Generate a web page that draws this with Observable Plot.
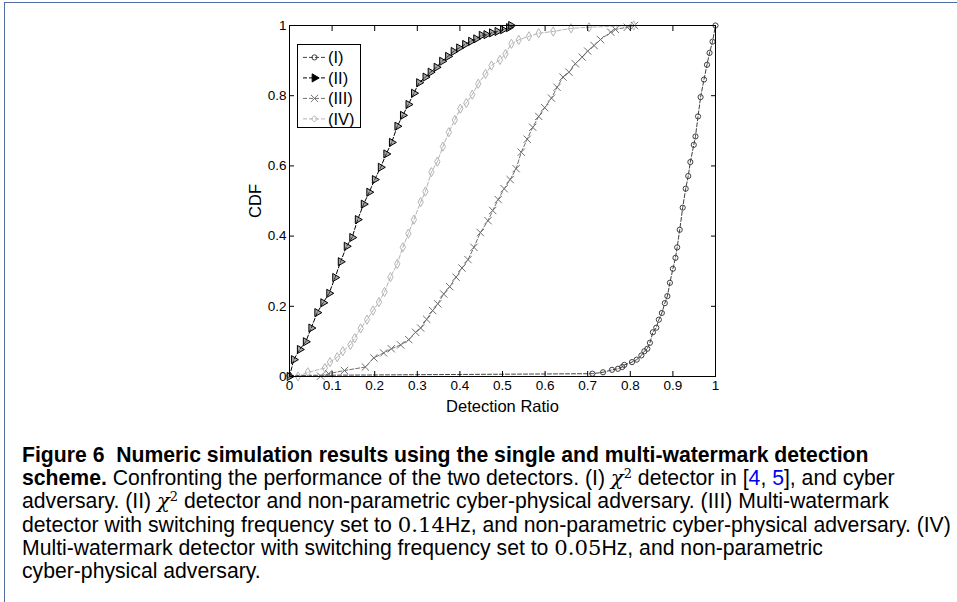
<!DOCTYPE html>
<html>
<head>
<meta charset="utf-8">
<script src="https://cdn.jsdelivr.net/npm/d3@7"></script>
<script src="https://cdn.jsdelivr.net/npm/@observablehq/plot@0.6"></script>
<style>
  html, body { margin: 0; padding: 0; background: #fff; }
  body { width: 957px; height: 602px; position: relative; overflow: hidden; font-family: "Liberation Sans", Arial, Helvetica, sans-serif; }
  #border { position: absolute; left: 4px; top: 2px; width: 1000px; height: 700px; border-top: 1.5px solid #4f6fa3; border-left: 1.5px solid #4f6fa3; }
  #chart { position: absolute; left: 0; top: 0; }
  #legend { position: absolute; left: 297px; top: 44px; width: 64px; height: 84px; border: 1px solid #000; background: #fff; box-sizing: border-box; }
  #caption { position: absolute; left: 22px; top: 443px; font-size: 21.2px; line-height: 23.2px; color: #000; white-space: nowrap; }
  #caption b { font-weight: bold; }
  .m { font-family: "DejaVu Serif", "Liberation Serif", serif; }
  .chi { font-family: "DejaVu Serif", "Liberation Serif", serif; font-style: italic; }
  .sup { font-family: "DejaVu Serif", "Liberation Serif", serif; font-size: 13px; vertical-align: 7px; line-height: 0; }
  .cite { color: #0000ee; }
</style>
</head>
<body>
<div id="border"></div>
<div id="chart"></div>
<div id="legend"></div>
<div id="caption">
<b>Figure 6&nbsp; Numeric simulation results using the single and multi-watermark detection</b><br>
<b>scheme.</b> Confronting the performance of the two detectors. (I) <span class="chi">χ</span><span class="sup">2</span> detector in [<span class="cite">4</span>, <span class="cite">5</span>], and cyber<br>
adversary. (II) <span class="chi">χ</span><span class="sup">2</span> detector and non-parametric cyber-physical adversary. (III) Multi-watermark<br>
detector with switching frequency set to <span class="m">0.14</span>Hz, and non-parametric cyber-physical adversary. (IV)<br>
Multi-watermark detector with switching frequency set to <span class="m">0.05</span>Hz, and non-parametric<br>
cyber-physical adversary.
</div>
<script>
// ---- Data ----
const seriesNames = ["(I)", "(II)", "(III)", "(IV)"];
const seriesColors = ["#404040", "#000000", "#6f6f6f", "#b4b4b4"];
const seriesSymbols = ["circle", "triangle", "times", "diamond"];

const xI = [0, 0.711, 0.736, 0.757, 0.771, 0.781, 0.786, 0.804, 0.815, 0.826, 0.833, 0.840, 0.846, 0.853, 0.861, 0.867, 0.874, 0.881, 0.887, 0.893, 0.900, 0.906, 0.910, 0.916, 0.923, 0.930, 0.936, 0.941, 0.949, 0.953, 0.959, 0.965, 0.973, 0.980, 0.986, 0.993, 1.0];
const yI = [0.003, 0.008, 0.012, 0.019, 0.022, 0.027, 0.033, 0.041, 0.048, 0.060, 0.072, 0.079, 0.096, 0.126, 0.139, 0.162, 0.181, 0.209, 0.229, 0.267, 0.307, 0.338, 0.368, 0.418, 0.481, 0.535, 0.571, 0.611, 0.660, 0.684, 0.741, 0.796, 0.846, 0.888, 0.922, 0.954, 1.0];

const xII = [0, 0.010, 0.024, 0.038, 0.051, 0.065, 0.079, 0.093, 0.107, 0.120, 0.134, 0.147, 0.160, 0.174, 0.187, 0.200, 0.214, 0.227, 0.240, 0.253, 0.266, 0.279, 0.292, 0.304, 0.319, 0.331, 0.345, 0.358, 0.372, 0.385, 0.398, 0.412, 0.426, 0.438, 0.451, 0.462, 0.475, 0.488, 0.501, 0.515, 0.520];
const yII = [0, 0.048, 0.077, 0.099, 0.138, 0.182, 0.210, 0.237, 0.282, 0.327, 0.371, 0.396, 0.447, 0.491, 0.525, 0.561, 0.596, 0.634, 0.667, 0.713, 0.744, 0.775, 0.807, 0.837, 0.853, 0.867, 0.881, 0.898, 0.912, 0.926, 0.936, 0.946, 0.955, 0.962, 0.972, 0.974, 0.979, 0.983, 0.988, 0.994, 1.0];

const xIII = [0.073, 0.092, 0.129, 0.178, 0.198, 0.221, 0.239, 0.261, 0.280, 0.296, 0.308, 0.322, 0.336, 0.348, 0.362, 0.376, 0.391, 0.405, 0.419, 0.433, 0.448, 0.466, 0.477, 0.490, 0.504, 0.518, 0.532, 0.544, 0.558, 0.571, 0.585, 0.599, 0.615, 0.628, 0.642, 0.656, 0.671, 0.687, 0.700, 0.715, 0.730, 0.754, 0.765, 0.793, 0.810];
const yIII = [0.001, 0.008, 0.017, 0.027, 0.053, 0.067, 0.079, 0.090, 0.105, 0.126, 0.138, 0.163, 0.188, 0.207, 0.235, 0.256, 0.283, 0.309, 0.333, 0.368, 0.410, 0.444, 0.473, 0.504, 0.535, 0.561, 0.592, 0.639, 0.676, 0.710, 0.741, 0.766, 0.793, 0.824, 0.853, 0.867, 0.891, 0.910, 0.927, 0.943, 0.960, 0.981, 0.989, 0.995, 1.0];

const xIV = [0.020, 0.043, 0.083, 0.095, 0.112, 0.125, 0.143, 0.153, 0.167, 0.182, 0.196, 0.210, 0.223, 0.237, 0.253, 0.266, 0.279, 0.292, 0.308, 0.319, 0.333, 0.347, 0.360, 0.374, 0.388, 0.401, 0.415, 0.429, 0.443, 0.460, 0.474, 0.494, 0.507, 0.521, 0.538, 0.562, 0.585, 0.619, 0.661, 0.703, 0.808];
const yIV = [0.0, 0.012, 0.024, 0.041, 0.055, 0.072, 0.090, 0.109, 0.137, 0.162, 0.188, 0.212, 0.241, 0.283, 0.321, 0.368, 0.407, 0.447, 0.497, 0.527, 0.582, 0.612, 0.655, 0.696, 0.731, 0.763, 0.779, 0.803, 0.834, 0.862, 0.886, 0.902, 0.919, 0.948, 0.959, 0.969, 0.978, 0.983, 0.992, 0.995, 1.0];

const xTicks = [0, 0.1, 0.2, 0.3, 0.4, 0.5, 0.6, 0.7, 0.8, 0.9, 1];
const yTicks = [0, 0.2, 0.4, 0.6, 0.8, 1];
const xLabel = "Detection Ratio";
const yLabel = "CDF";

// ---- Build table ----
const xs = [xI, xII, xIII, xIV];
const ys = [yI, yII, yIII, yIV];
const series = seriesNames.map((name, k) => xs[k].map((x, i) => ({name, x, y: ys[k][i]})));

const dash = "4,2";
const radii = [2.6, 3.0, 3.4, 2.8];
const marks = [];
series.forEach((rows, k) => {
  marks.push(Plot.line(rows, {x: "x", y: "y", stroke: seriesColors[k], strokeWidth: 1, strokeDasharray: dash}));
  marks.push(Plot.dot(rows, {
    x: "x", y: "y",
    symbol: seriesSymbols[k],
    r: radii[k],
    rotate: k === 1 ? 90 : 0,
    stroke: seriesColors[k], fill: k === 1 ? "#555" : "none", fillOpacity: k === 1 ? 0.5 : 1, strokeWidth: 1
  }));
});

const font = "'Liberation Sans', Arial, Helvetica, sans-serif";
marks.push(
  Plot.frame({stroke: "#000", strokeWidth: 1}),
  Plot.axisX({ticks: xTicks, anchor: "bottom", tickSize: -5, tickFormat: () => "", label: null}),
  Plot.axisX({ticks: xTicks, anchor: "top", tickSize: -5, tickFormat: () => "", label: null}),
  Plot.axisY({ticks: yTicks, anchor: "left", tickSize: -5, tickFormat: () => "", label: null}),
  Plot.axisY({ticks: yTicks, anchor: "right", tickSize: -5, tickFormat: () => "", label: null}),
  Plot.axisX({ticks: xTicks, anchor: "bottom", tickSize: 0, tickPadding: 4, tickFormat: d => String(d), label: null, fontSize: 13.5}),
  Plot.axisY({ticks: yTicks, anchor: "left", tickSize: 0, tickPadding: 3, tickFormat: d => String(d), label: null, fontSize: 13.5}),
  Plot.axisX({ticks: xTicks, anchor: "bottom", tickSize: 0, tickFormat: () => "", label: xLabel, labelAnchor: "center", labelArrow: "none", labelOffset: 35, fontSize: 16.5}),
  Plot.axisY({ticks: yTicks, anchor: "left", tickSize: 0, tickFormat: () => "", label: yLabel, labelAnchor: "center", labelArrow: "none", labelOffset: 40, fontSize: 16.5})
);

const chart = Plot.plot({
  width: 957,
  height: 420,
  marginLeft: 289,
  marginRight: 242,
  marginTop: 25,
  marginBottom: 44,
  x: {domain: [0, 1]},
  y: {domain: [0, 1]},
  style: {fontFamily: font, fontSize: "13px", color: "#000", background: "transparent", overflow: "visible"},
  marks
});
document.getElementById("chart").appendChild(chart);

// ---- Legend (inside the axes, upper left) ----
const lg = d3.select("#legend").append("svg").attr("width", 62).attr("height", 82)
  .style("position", "absolute").style("left", "0px").style("top", "0px").style("overflow", "visible");
const symMap = {circle: d3.symbolCircle, triangle: d3.symbolTriangle, times: d3.symbolTimes, diamond: d3.symbolDiamond2};
seriesNames.forEach((name, k) => {
  const cy = 12.4 + k * 20.5;
  const g = lg.append("g");
  g.append("line").attr("x1", 5).attr("x2", 28).attr("y1", cy).attr("y2", cy)
    .attr("stroke", seriesColors[k]).attr("stroke-width", 1).attr("stroke-dasharray", dash);
  const r = radii[k];
  g.append("path").attr("d", d3.symbol(symMap[seriesSymbols[k]], Math.PI * r * r)())
    .attr("transform", `translate(16.5,${cy}) rotate(${k === 1 ? 90 : 0})`)
    .attr("fill", k === 1 ? seriesColors[k] : "none").attr("stroke", seriesColors[k]).attr("stroke-width", 1);
  g.append("text").attr("x", 30).attr("y", cy).attr("dy", "0.36em")
    .attr("font-family", font).attr("font-size", 16.5).attr("fill", "#000").text(name);
});
</script>
</body>
</html>
